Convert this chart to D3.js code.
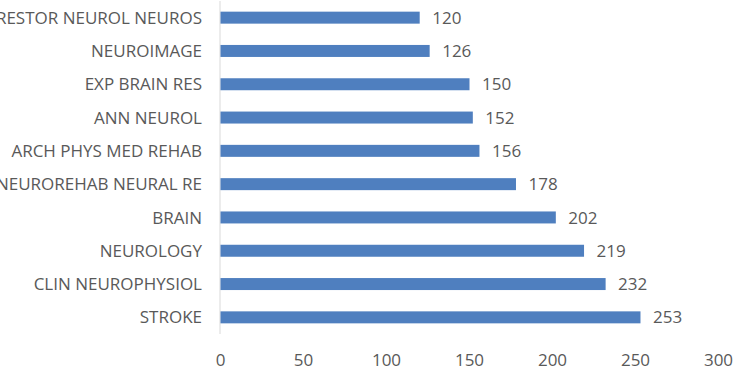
<!DOCTYPE html>
<html>
<head>
<meta charset="utf-8">
<script src="https://cdn.jsdelivr.net/npm/d3@7"></script>
<style>
  body { margin: 0; background: #fff; }
  text { font-family: "Open Sans", "Liberation Sans", sans-serif; fill: #595959; }
</style>
</head>
<body>
<svg id="chart" width="734" height="366"></svg>
<script>
const journals = ["RESTOR NEUROL NEUROS", "NEUROIMAGE", "EXP BRAIN RES", "ANN NEUROL",
  "ARCH PHYS MED REHAB", "NEUROREHAB NEURAL RE", "BRAIN", "NEUROLOGY",
  "CLIN NEUROPHYSIOL", "STROKE"]
const counts = [120, 126, 150, 152, 156, 178, 202, 219, 232, 253]
const xTicks = [0, 50, 100, 150, 200, 250, 300]

const svg = d3.select("#chart")
const plotLeft = 220, plotRight = 718, plotTop = 1, plotBottom = 334
const fontSize = "17px"

const x = d3.scaleLinear().domain([0, 300]).range([plotLeft, plotRight])
const y = d3.scaleBand().domain(journals).range([plotTop, plotBottom])
  .paddingInner(0.64).paddingOuter(0.32)

// vertical category axis line
svg.append("line")
  .attr("x1", x(0)).attr("x2", x(0))
  .attr("y1", plotTop).attr("y2", plotBottom)
  .attr("stroke", "#d9d9d9")

svg.selectAll(".bar")
  .data(journals)
  .enter()
  .append("rect")
    .attr("class", "bar")
    .attr("x", x(0) + 0.5)
    .attr("y", d => y(d))
    .attr("width", (d, i) => x(counts[i]) - x(0))
    .attr("height", y.bandwidth())
    .style("fill", "#4f7fbf")

svg.selectAll(".val")
  .data(journals)
  .enter()
  .append("text")
    .attr("class", "val")
    .attr("x", (d, i) => x(counts[i]) + 13)
    .attr("y", d => y(d) + y.bandwidth() / 2)
    .attr("dy", "0.36em")
    .style("font-size", fontSize)
    .text((d, i) => counts[i])

svg.selectAll(".cat")
  .data(journals)
  .enter()
  .append("text")
    .attr("class", "cat")
    .attr("x", x(0) - 18)
    .attr("y", d => y(d) + y.bandwidth() / 2)
    .attr("dy", "0.36em")
    .attr("text-anchor", "end")
    .style("font-size", fontSize)
    .text(d => d)

const xAxis = svg.append("g")
  .attr("transform", `translate(0,${plotBottom})`)
  .call(d3.axisBottom(x).tickValues(xTicks).tickSize(0).tickPadding(20))
xAxis.select(".domain").remove()
xAxis.selectAll("text")
  .style("font-size", fontSize)
  .style("font-family", "'Open Sans', 'Liberation Sans', sans-serif")
  .attr("fill", "#595959")
</script>
</body>
</html>
